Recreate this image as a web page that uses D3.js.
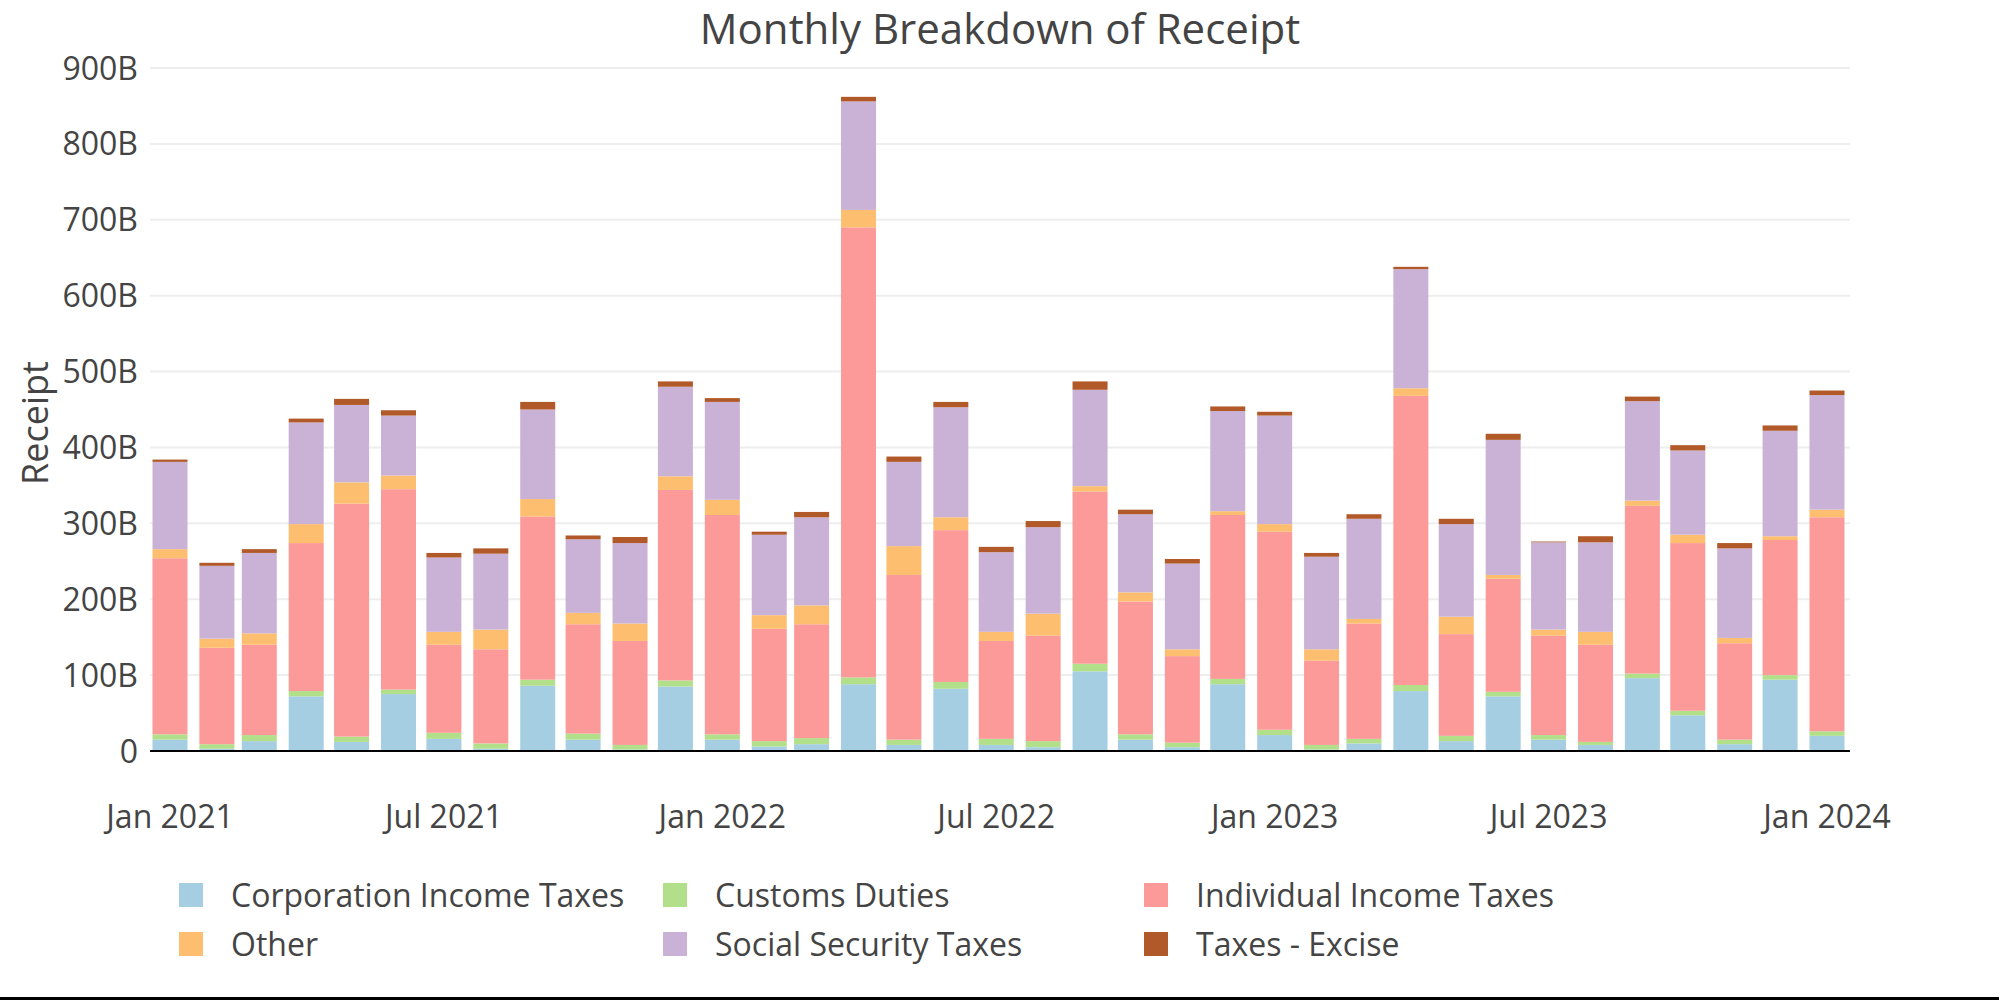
<!DOCTYPE html>
<html>
<head>
<meta charset="utf-8">
<script src="https://cdn.jsdelivr.net/npm/d3@7"></script>
<style>
  body { margin: 0; background: #fff; }
  svg { display: block; font-family: "Open Sans", sans-serif; }
</style>
</head>
<body>
<svg id="chart" width="1999" height="1000"></svg>
<script>
// months Jan 2021 .. Jan 2024
const months = d3.timeMonths(new Date(2021, 0, 1), new Date(2024, 0, 2));

const series = ["Corporation Income Taxes", "Customs Duties", "Individual Income Taxes",
  "Other", "Social Security Taxes", "Taxes - Excise"];
const colors = ["#a6cee3", "#b2df8a", "#fb9a99", "#fdbf6f", "#cab2d6", "#b15928"];

// values in billions
const corporation = [15, 3, 13, 72, 12, 75, 16, 3, 86, 15, 2, 85,
  15, 6, 9, 88, 8, 82, 8, 5, 105, 15, 5, 88,
  21, 2, 10, 79, 13, 72, 15, 8, 96, 47, 9, 94, 20];
const customs = [7, 6, 8, 7, 7, 6, 8, 7, 8, 8, 6, 8,
  7, 7, 8, 9, 7, 9, 8, 8, 10, 7, 6, 7,
  7, 6, 6, 8, 7, 6, 6, 4, 6, 6, 6, 6, 6];
const individual = [232, 127, 119, 195, 307, 264, 116, 124, 215, 144, 137, 251,
  289, 148, 150, 593, 217, 200, 129, 139, 227, 175, 114, 216,
  261, 111, 152, 381, 134, 149, 131, 128, 221, 221, 127, 178, 282];
const other = [12, 12, 15, 25, 28, 18, 17, 26, 23, 15, 23, 18,
  20, 18, 25, 23, 38, 17, 12, 29, 7, 12, 9, 5,
  10, 15, 6, 10, 23, 5, 8, 17, 7, 11, 7, 5, 10];
const socialSecurity = [115, 96, 106, 134, 102, 79, 98, 100, 118, 97, 106, 118,
  129, 106, 116, 143, 111, 145, 105, 114, 127, 103, 113, 132,
  143, 122, 132, 157, 122, 178, 115, 118, 131, 111, 118, 139, 151];
const excise = [3, 4, 5, 5, 8, 7, 6, 7, 10, 5, 8, 7,
  5, 4, 7, 6, 7, 7, 7, 8, 11, 6, 6, 6,
  5, 5, 6, 3, 7, 8, 1, 8, 6, 7, 7, 7, 6];

const yTicks = [0, 100, 200, 300, 400, 500, 600, 700, 800, 900];
const xTicks = [new Date(2021, 0, 1), new Date(2021, 6, 1), new Date(2022, 0, 1),
  new Date(2022, 6, 1), new Date(2023, 0, 1), new Date(2023, 6, 1), new Date(2024, 0, 1)];

const allSeries = [corporation, customs, individual, other, socialSecurity, excise];
const table = months.map((m, i) => {
  const row = { date: m };
  series.forEach((s, k) => row[s] = allSeries[k][i]);
  return row;
});

const svg = d3.select("#chart");
const left = 150, right = 1850;
const barWidth = 35;

const x = d3.scaleTime()
  .domain([new Date(2021, 0, 1), new Date(2024, 0, 1)])
  .range([170, 1827]);

const y = d3.scaleLinear()
  .domain([0, 900])
  .range([751, 68]);

svg.append("rect").attr("width", 1999).attr("height", 1000).attr("fill", "#fff");

// grid
svg.append("g")
  .selectAll("line")
  .data(yTicks.slice(1))
  .join("line")
  .attr("x1", left).attr("x2", right)
  .attr("y1", d => y(d)).attr("y2", d => y(d))
  .attr("stroke", "#eeeeee")
  .attr("stroke-width", 2);

// y labels
svg.append("g")
  .selectAll("text")
  .data(yTicks)
  .join("text")
  .attr("x", 138)
  .attr("y", d => y(d))
  .attr("dy", "0.36em")
  .attr("text-anchor", "end")
  .style("font-size", "32px")
  .style("fill", "#444")
  .text(d => d === 0 ? "0" : d + "B");

// stacked bars
const stacked = d3.stack().keys(series)(table);

svg.append("g")
  .selectAll("g")
  .data(stacked)
  .join("g")
  .attr("fill", (d, i) => colors[i])
  .selectAll("rect")
  .data(d => d)
  .join("rect")
  .attr("x", d => x(d.data.date) - barWidth / 2)
  .attr("width", barWidth)
  .attr("y", d => y(d[1]))
  .attr("height", d => y(d[0]) - y(d[1]));

// x axis line
svg.append("line")
  .attr("x1", left).attr("x2", right)
  .attr("y1", y(0)).attr("y2", y(0))
  .attr("stroke", "#000")
  .attr("stroke-width", 2);

const xFmt = d3.timeFormat("%b %Y");
svg.append("g")
  .selectAll("text")
  .data(xTicks)
  .join("text")
  .attr("x", d => x(d))
  .attr("y", 816)
  .attr("dy", "0.36em")
  .attr("text-anchor", "middle")
  .style("font-size", "32px")
  .style("fill", "#444")
  .text(d => xFmt(d));

// titles
svg.append("text")
  .attr("x", 1000)
  .attr("y", 44)
  .attr("text-anchor", "middle")
  .style("font-size", "42px")
  .style("fill", "#444")
  .text("Monthly Breakdown of Receipt");

svg.append("text")
  .attr("transform", "translate(35,423)rotate(-90)")
  .attr("dy", "0.36em")
  .attr("text-anchor", "middle")
  .style("font-size", "36px")
  .style("fill", "#444")
  .text("Receipt");

// legend, 3 columns x 2 rows
const legX = [179, 663, 1144];
const legY = [895, 944];
const leg = svg.append("g")
  .selectAll("g")
  .data(series)
  .join("g")
  .attr("transform", (d, i) => `translate(${legX[i % 3]},${legY[Math.floor(i / 3)]})`);

leg.append("rect")
  .attr("x", 0).attr("y", -12)
  .attr("width", 24).attr("height", 24)
  .attr("fill", (d, i) => colors[i]);

leg.append("text")
  .attr("x", 52)
  .attr("dy", "0.36em")
  .style("font-size", "32px")
  .style("fill", "#444")
  .text(d => d);

// bottom frame line
svg.append("rect")
  .attr("x", 0).attr("y", 997)
  .attr("width", 1999).attr("height", 3)
  .attr("fill", "#000");
</script>
</body>
</html>
